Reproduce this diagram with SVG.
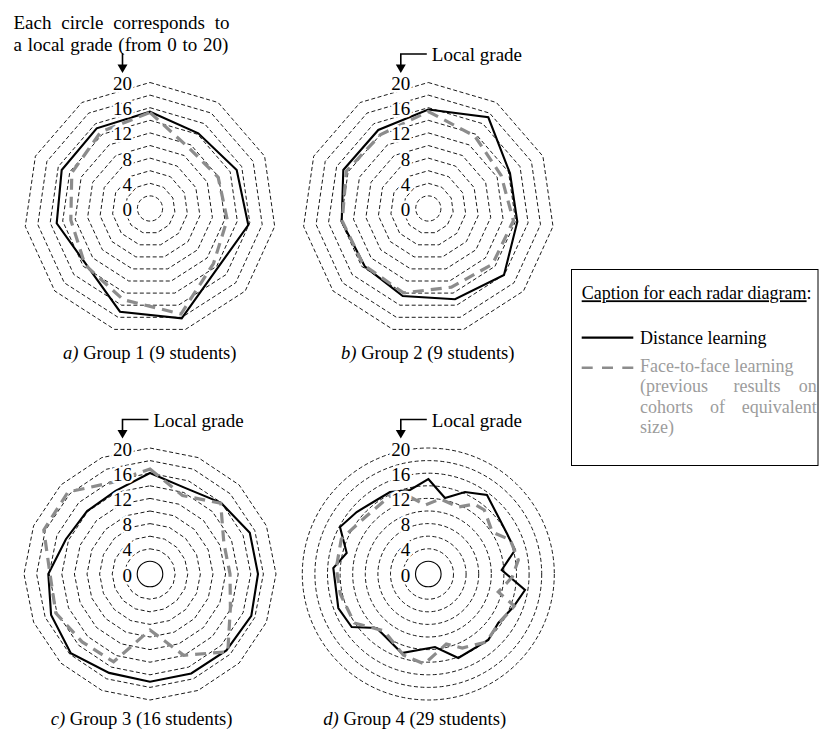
<svg xmlns="http://www.w3.org/2000/svg" width="819" height="736" viewBox="0 0 819 736" font-family="'Liberation Serif', 'Times New Roman', serif">
<style>
text{font-family:"Liberation Serif","Times New Roman",serif;fill:#000}
.ring{fill:none;stroke:#000;stroke-width:0.9;stroke-dasharray:4 2.5}
.core{fill:none;stroke:#000;stroke-width:1.1}
.dist{fill:none;stroke:#000;stroke-width:2.1;stroke-linejoin:miter}
.f2f{fill:none;stroke:#8c8c8c;stroke-width:3.2;stroke-dasharray:11 7}
.lbl{font-size:19px;text-anchor:end;stroke:#fff;stroke-width:5;paint-order:stroke;stroke-linejoin:round}
.t19{font-size:19px}
.cap{font-size:18.6px}
.leg{font-size:18px}
.grey{fill:#9c9c9c}
.arr{fill:none;stroke:#000;stroke-width:1.6}
.head{fill:#000}
</style>
<defs>
<g id="rings11">
<polygon class="ring" points="0,-126 68.1,-106 114.6,-52.3 124.7,17.9 95.2,82.5 35.5,120.9 -35.5,120.9 -95.2,82.5 -124.7,17.9 -114.6,-52.3 -68.1,-106"/>
<polygon class="ring" points="0,-113.4 61.3,-95.4 103.1,-47.1 112.2,16.1 85.7,74.3 31.9,108.8 -31.9,108.8 -85.7,74.3 -112.2,16.1 -103.1,-47.1 -61.3,-95.4"/>
<polygon class="ring" points="0,-100.8 54.5,-84.8 91.7,-41.9 99.8,14.3 76.2,66 28.4,96.7 -28.4,96.7 -76.2,66 -99.8,14.3 -91.7,-41.9 -54.5,-84.8"/>
<polygon class="ring" points="0,-88.2 47.7,-74.2 80.2,-36.6 87.3,12.6 66.7,57.8 24.8,84.6 -24.8,84.6 -66.7,57.8 -87.3,12.6 -80.2,-36.6 -47.7,-74.2"/>
<polygon class="ring" points="0,-75.6 40.9,-63.6 68.8,-31.4 74.8,10.8 57.1,49.5 21.3,72.5 -21.3,72.5 -57.1,49.5 -74.8,10.8 -68.8,-31.4 -40.9,-63.6"/>
<polygon class="ring" points="0,-63 34.1,-53 57.3,-26.2 62.4,9 47.6,41.3 17.7,60.4 -17.7,60.4 -47.6,41.3 -62.4,9 -57.3,-26.2 -34.1,-53"/>
<polygon class="ring" points="0,-50.4 27.2,-42.4 45.8,-20.9 49.9,7.2 38.1,33 14.2,48.4 -14.2,48.4 -38.1,33 -49.9,7.2 -45.8,-20.9 -27.2,-42.4"/>
<polygon class="ring" points="0,-37.8 20.4,-31.8 34.4,-15.7 37.4,5.4 28.6,24.8 10.6,36.3 -10.6,36.3 -28.6,24.8 -37.4,5.4 -34.4,-15.7 -20.4,-31.8"/>
<polygon class="ring" points="0,-25.2 13.6,-21.2 22.9,-10.5 24.9,3.6 19,16.5 7.1,24.2 -7.1,24.2 -19,16.5 -24.9,3.6 -22.9,-10.5 -13.6,-21.2"/>
<circle class="ring" r="12.6"/>
</g>
<g id="rings16">
<polygon class="ring" points="0,-126 48.2,-116.4 89.1,-89.1 116.4,-48.2 126,0 116.4,48.2 89.1,89.1 48.2,116.4 0,126 -48.2,116.4 -89.1,89.1 -116.4,48.2 -126,0 -116.4,-48.2 -89.1,-89.1 -48.2,-116.4"/>
<polygon class="ring" points="0,-113.4 43.4,-104.8 80.2,-80.2 104.8,-43.4 113.4,0 104.8,43.4 80.2,80.2 43.4,104.8 0,113.4 -43.4,104.8 -80.2,80.2 -104.8,43.4 -113.4,0 -104.8,-43.4 -80.2,-80.2 -43.4,-104.8"/>
<polygon class="ring" points="0,-100.8 38.6,-93.1 71.3,-71.3 93.1,-38.6 100.8,0 93.1,38.6 71.3,71.3 38.6,93.1 0,100.8 -38.6,93.1 -71.3,71.3 -93.1,38.6 -100.8,0 -93.1,-38.6 -71.3,-71.3 -38.6,-93.1"/>
<polygon class="ring" points="0,-88.2 33.8,-81.5 62.4,-62.4 81.5,-33.8 88.2,0 81.5,33.8 62.4,62.4 33.8,81.5 0,88.2 -33.8,81.5 -62.4,62.4 -81.5,33.8 -88.2,0 -81.5,-33.8 -62.4,-62.4 -33.8,-81.5"/>
<polygon class="ring" points="0,-75.6 28.9,-69.8 53.5,-53.5 69.8,-28.9 75.6,0 69.8,28.9 53.5,53.5 28.9,69.8 0,75.6 -28.9,69.8 -53.5,53.5 -69.8,28.9 -75.6,0 -69.8,-28.9 -53.5,-53.5 -28.9,-69.8"/>
<polygon class="ring" points="0,-63 24.1,-58.2 44.5,-44.5 58.2,-24.1 63,0 58.2,24.1 44.5,44.5 24.1,58.2 0,63 -24.1,58.2 -44.5,44.5 -58.2,24.1 -63,0 -58.2,-24.1 -44.5,-44.5 -24.1,-58.2"/>
<polygon class="ring" points="0,-50.4 19.3,-46.6 35.6,-35.6 46.6,-19.3 50.4,0 46.6,19.3 35.6,35.6 19.3,46.6 0,50.4 -19.3,46.6 -35.6,35.6 -46.6,19.3 -50.4,0 -46.6,-19.3 -35.6,-35.6 -19.3,-46.6"/>
<polygon class="ring" points="0,-37.8 14.5,-34.9 26.7,-26.7 34.9,-14.5 37.8,0 34.9,14.5 26.7,26.7 14.5,34.9 0,37.8 -14.5,34.9 -26.7,26.7 -34.9,14.5 -37.8,0 -34.9,-14.5 -26.7,-26.7 -14.5,-34.9"/>
<polygon class="ring" points="0,-25.2 9.6,-23.3 17.8,-17.8 23.3,-9.6 25.2,0 23.3,9.6 17.8,17.8 9.6,23.3 0,25.2 -9.6,23.3 -17.8,17.8 -23.3,9.6 -25.2,0 -23.3,-9.6 -17.8,-17.8 -9.6,-23.3"/>
<circle class="core" r="12.8"/>
</g>
<g id="ringsC">
<circle class="ring" r="126"/><circle class="ring" r="113.4"/><circle class="ring" r="100.8"/><circle class="ring" r="88.2"/><circle class="ring" r="75.6"/><circle class="ring" r="63"/><circle class="ring" r="50.4"/><circle class="ring" r="37.8"/><circle class="ring" r="25.2"/>
<circle class="core" r="12.8"/>
</g>
<g id="labels">
<text class="lbl" x="-18" y="-118.5">20</text>
<text class="lbl" x="-18" y="-93.3">16</text>
<text class="lbl" x="-18" y="-68.1">12</text>
<text class="lbl" x="-18" y="-42.9">8</text>
<text class="lbl" x="-18" y="-17.7">4</text>
<text class="lbl" x="-18" y="7.5">0</text>
</g>
<g id="localgrade">
<path class="arr" d="M-1.5,-154.5 H-27.5 V-143"/>
<polygon class="head" points="-32.5,-144 -22.5,-144 -27.5,-135.5"/>
<text class="t19" x="3.5" y="-147.5">Local grade</text>
</g>
</defs>

<g id="chart-a" transform="translate(150,208.5)">
<use href="#rings11"/>
<polygon class="dist" points="0,-96.8 48.3,-75.2 86.7,-38.5 98.3,16.5 65,63.2 31.7,109.8 -30,103.2 -64.2,55.4 -93.3,14.8 -88.3,-38.5 -53.3,-80.2"/>
<polygon class="f2f" points="0,-96 38.9,-60.6 68.2,-31.2 77.2,11.1 63.5,55 31,105.5 -26.8,91.2 -65,56.3 -79.2,11.4 -78.2,-35.7 -49.2,-76.6"/>
<use href="#labels"/>
<path class="arr" d="M-27.5,-155.5 V-143"/>
<polygon class="head" points="-32.5,-144 -22.5,-144 -27.5,-135.5"/>
<text class="t19" x="-136.5" y="-180" word-spacing="5">Each circle corresponds to</text>
<text class="t19" x="-136.5" y="-158" word-spacing="1">a local grade (from 0 to 20)</text>
<text class="cap" x="-87" y="150"><tspan font-style="italic">a)</tspan> Group 1 (9 students)</text>
</g>

<g id="chart-b" transform="translate(428.3,208.5)">
<use href="#rings11"/>
<polygon class="dist" points="0,-99 60,-91.2 81.7,-35.2 89,13.2 75.7,66.5 26.7,90.8 -25.6,87.5 -63.3,58.2 -86.6,13.2 -85,-38.5 -50,-78.5"/>
<polygon class="f2f" points="0,-97 46.5,-72.4 72.8,-33.2 85.1,12.2 64.2,55.7 23.1,78.7 -24.8,84.4 -65,56.3 -86.1,12.4 -81.9,-37.4 -47.6,-74"/>
<use href="#labels"/>
<use href="#localgrade"/>
<text class="cap" x="-87.3" y="150"><tspan font-style="italic">b)</tspan> Group 2 (9 students)</text>
</g>

<g id="chart-c" transform="translate(150,574)">
<use href="#rings16"/>
<polygon class="dist" points="0,-101 35.6,-85.9 71.1,-71.1 99.8,-41.3 108,0 101.3,41.9 76.4,76.4 41.2,99.5 0,107.7 -40.9,98.9 -79.2,79.2 -98.9,40.9 -101.7,0 -84.1,-34.8 -62.9,-62.9 -34.4,-83.2"/>
<polygon class="f2f" points="0,-105 32.5,-78.5 70.7,-70.7 73.9,-30.6 80,0 80.4,33.3 77.8,77.8 33.7,81.3 0,56 -36.4,87.8 -67.9,67.9 -94.2,39 -100,0 -106.2,-44 -82,-82 -37.9,-91.5"/>
<use href="#labels"/>
<use href="#localgrade"/>
<text class="cap" x="-99.3" y="150.5"><tspan font-style="italic">c)</tspan> Group 3 (16 students)</text>
</g>

<g id="chart-d" transform="translate(428.3,574)">
<use href="#ringsC"/>
<polygon class="dist" points="0,-95 16.7,-76 36.7,-82 58.7,-79 78.4,-41 86.7,-24 73.4,-4 96.7,16 85,33 70,49 60,66 30,84 6.7,73 -26.6,79 -51.6,54 -76.6,53 -90,34 -95,-6 -81.6,-21 -88.3,-47 -71.6,-62 -48.3,-76 -38.3,-82 -18.3,-84"/>
<polygon class="f2f" points="-36,-80 -18,-77 -3,-69 12,-75 30,-67 46,-70 56,-64 64,-42 82,-34 90,-14 84,3 70,18 86,32 70,50 58,68 34,74 18,70 -4,90 -25,81 -44,57 -74,49 -88,20 -92,-6 -87,-35 -64,-56"/>
<use href="#labels"/>
<use href="#localgrade"/>
<text class="cap" x="-105" y="150.5"><tspan font-style="italic">d)</tspan> Group 4 (29 students)</text>
</g>

<g id="legend">
<rect x="571.5" y="269.5" width="246.5" height="196" fill="#fff" stroke="#000" stroke-width="1"/>
<text class="leg" x="581.7" y="299.3"><tspan text-decoration="underline">Caption for each radar diagram</tspan>:</text>
<line x1="581.7" y1="337.7" x2="633.3" y2="337.7" stroke="#000" stroke-width="2.2"/>
<text class="leg" x="640" y="344">Distance learning</text>
<line x1="581.7" y1="367.7" x2="633.3" y2="367.7" stroke="#8c8c8c" stroke-width="2.6" stroke-dasharray="11 9.3"/>
<g class="grey">
<text class="leg grey" x="640" y="371.7">Face-to-face learning</text>
<text class="leg grey" x="640" y="392.3">(previous</text>
<text class="leg grey" x="757" y="392.3" text-anchor="middle">results</text>
<text class="leg grey" x="816.7" y="392.3" text-anchor="end">on</text>
<text class="leg grey" x="640" y="412.7">cohorts</text>
<text class="leg grey" x="717.5" y="412.7" text-anchor="middle">of</text>
<text class="leg grey" x="816.7" y="412.7" text-anchor="end">equivalent</text>
<text class="leg grey" x="640" y="433.3">size)</text>
</g>
</g>
</svg>
